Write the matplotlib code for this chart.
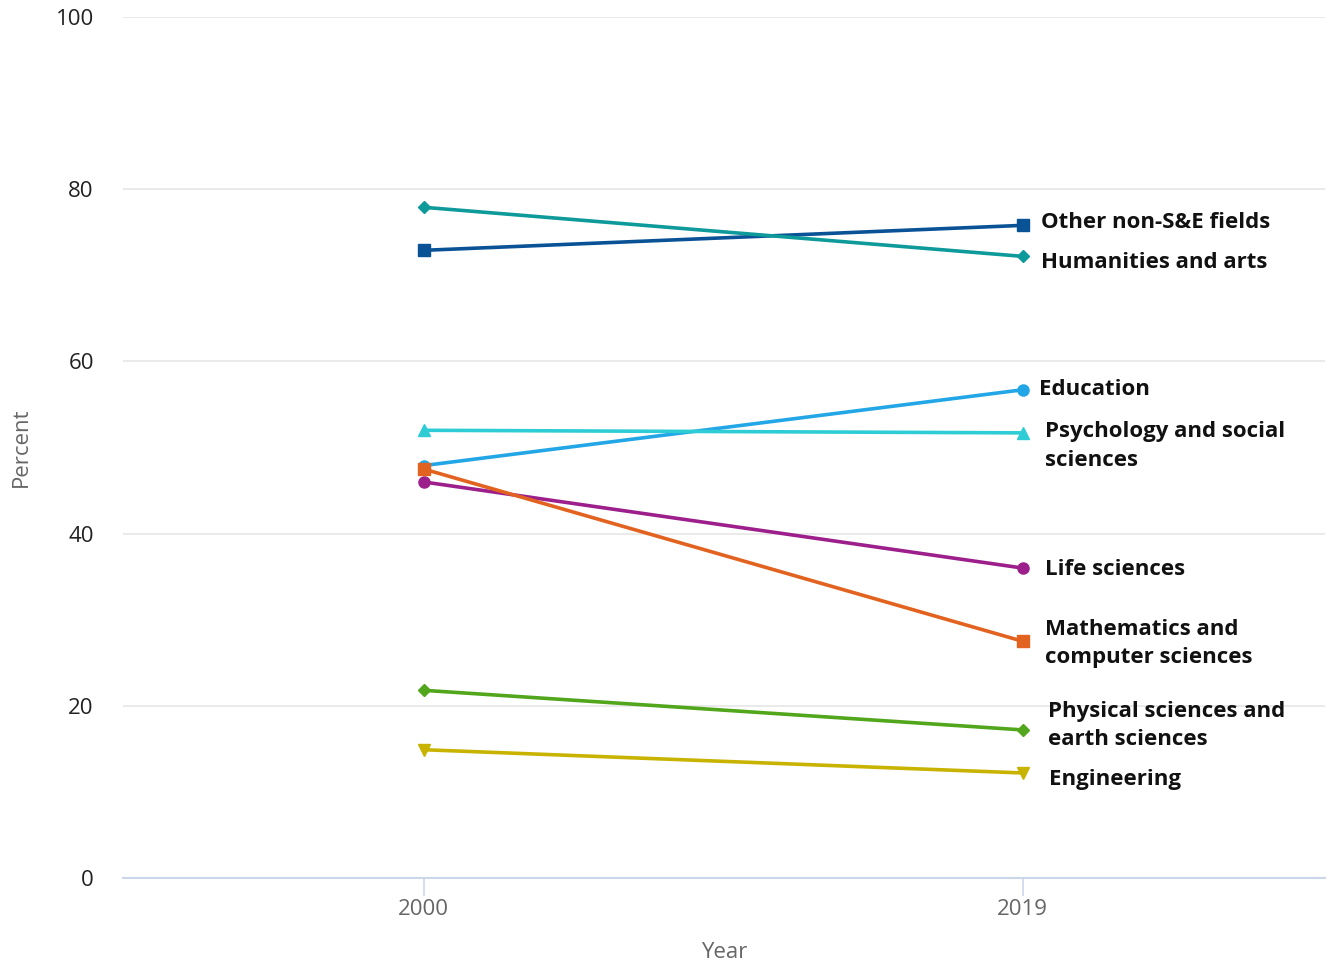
import numpy as np
import matplotlib.pyplot as plt

plt.rcParams['font.family'] = ['Open Sans', 'DejaVu Sans']

years = ['2000', '2019']
fields = ['Other non-S&E fields', 'Humanities and arts', 'Education',
          'Psychology and social\nsciences', 'Life sciences',
          'Mathematics and\ncomputer sciences',
          'Physical sciences and\nearth sciences', 'Engineering']
val_2000 = [72.9, 77.9, 47.9, 52.0, 46.0, 47.5, 21.8, 14.9]
val_2019 = [75.8, 72.2, 56.7, 51.7, 36.0, 27.5, 17.2, 12.2]

colors = ['#0a5296', '#0e9a9a', '#22a6e6', '#2ecdd6', '#9c1f8c',
          '#e2621f', '#51a61c', '#c8b400']
markers = ['s', 'D', 'o', '^', 'o', 's', 'D', 'v']
msizes = [8, 6, 8, 9, 8, 8, 6, 9]
# label offsets in points (dx, dy) from the 2019 point
offsets = [(13.5, 2.2), (13.5, -4.4), (12, 0), (16.5, -9.4), (16.5, -1.4),
           (16.5, -1.9), (18, 2.9), (19.4, -5)]

fig = plt.figure(figsize=(13.27, 9.64), dpi=100)
ax = fig.add_axes([123 / 1327, 1 - 878 / 964, 1202 / 1327, 861 / 964])

x = np.arange(len(years))
for i, name in enumerate(fields):
    ax.plot(x, [val_2000[i], val_2019[i]], color=colors[i], lw=2.6,
            marker=markers[i], ms=msizes[i], zorder=3)
    ax.annotate(name, (x[1], val_2019[i]), xytext=offsets[i],
                textcoords='offset points', ha='left', va='center',
                fontsize=16, fontweight='bold', color='#111111',
                linespacing=1.45)

ax.set_xlim(-0.502, 1.505)
ax.set_ylim(0, 100)
ax.set_yticks(np.arange(0, 101, 20))
ax.set_xticks(x)
ax.set_xticklabels(years)
ax.grid(axis='y', color='#e6e6e6', lw=1.2)
ax.set_axisbelow(True)
for s in ['top', 'right', 'left']:
    ax.spines[s].set_visible(False)
ax.spines['bottom'].set_color('#ccd6eb')
ax.spines['bottom'].set_linewidth(1.5)
ax.tick_params(axis='y', length=0, labelsize=16, labelcolor='#222222', pad=21)
ax.tick_params(axis='x', length=13, width=1.2, color='#ccd6eb',
               labelsize=16, labelcolor='#666666', pad=2)
ax.set_xlabel('Year', fontsize=16, color='#666666', labelpad=16)
ax.set_ylabel('Percent', fontsize=16, color='#666666', labelpad=17)

fig.savefig('out.png', dpi=100)
